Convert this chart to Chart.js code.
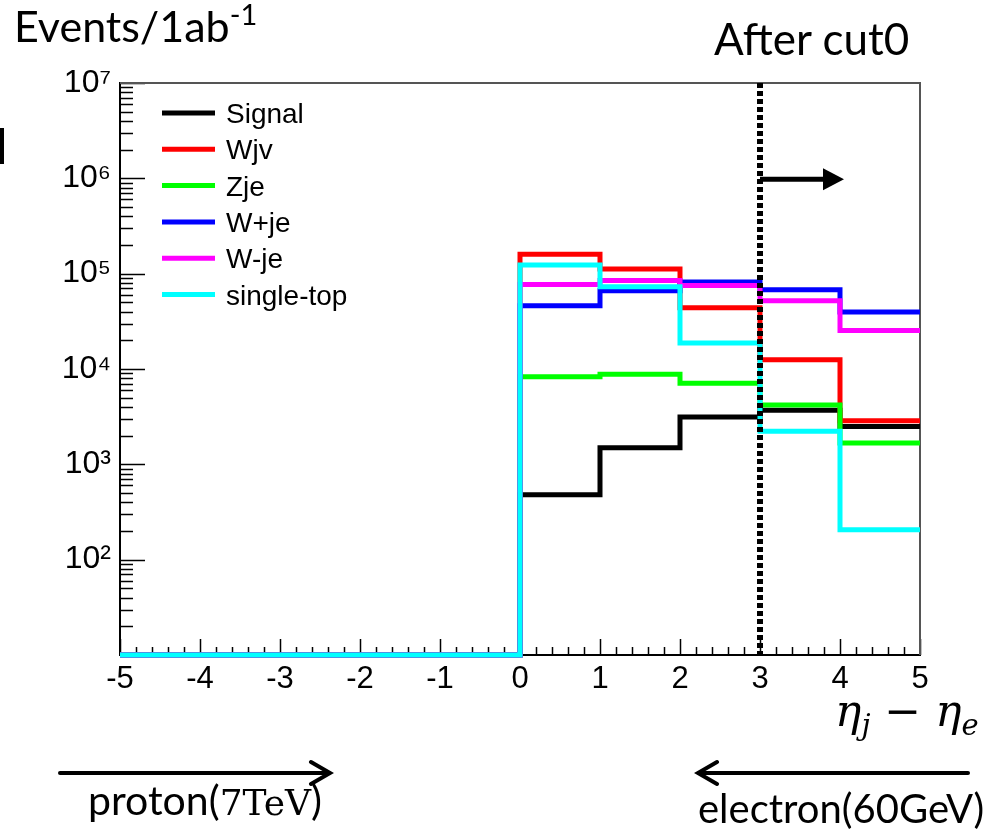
<!DOCTYPE html>
<html><head><meta charset="utf-8">
<script src="https://cdn.jsdelivr.net/npm/chart.js@4"></script>
<style>
html,body{margin:0;padding:0;background:#fff;}
#wrap{position:relative;width:992px;height:835px;overflow:hidden;background:#fff;}
#chartBox{position:absolute;left:0;top:0;width:992px;height:835px;}
.t{position:absolute;white-space:nowrap;color:#000;line-height:1;font-family:Lato,"Noto Sans",sans-serif;}
.sup{position:relative;}
svg{position:absolute;left:0;top:0;}
</style></head><body>
<div id="wrap">
<div id="chartBox"><canvas id="c"></canvas></div>
<svg width="992" height="835">
  <g stroke="#000" stroke-width="4" fill="none" stroke-linecap="round">
    <line x1="60" y1="773" x2="329" y2="773"/>
    <polyline points="311,762 330,773 311,784"/>
    <line x1="968" y1="773" x2="699" y2="773"/>
    <polyline points="717,762 698,773 717,784"/>
  </g>
  <rect x="0" y="128" width="4" height="36" fill="#000"/>
</svg>
<div class="t" style="left:14px;top:4px;font-size:43px;">Events/1ab<span class="sup" style="font-size:29px;top:-17px;">-1</span></div>
<div class="t" style="left:714px;top:16px;font-size:44px;">After cut0</div>
<div class="t" style="left:835px;top:689px;font-size:44px;font-family:'DejaVu Serif',serif;font-style:italic;">η<span class="sup" style="font-size:29px;top:9px;">j</span> − η<span class="sup" style="font-size:29px;top:9px;">e</span></div>
<div class="t" style="left:88px;top:779px;font-size:41px;">proton(<span style="font-family:'DejaVu Serif',serif;font-size:36px;">7TeV</span>)</div>
<div class="t" style="left:698px;top:788px;font-size:40px;">electron(60GeV)</div>
</div>
<script>
// ---- data ----
const binEdges = [-5, -4, -3, -2, -1, 0, 1, 2, 3, 4, 5];
const seriesNames = ['Signal', 'Wjv', 'Zje', 'W+je', 'W-je', 'single-top'];
const signal    = [0, 0, 0, 0, 0, 480,    1490,   3130,  3700,  2500];
const wjv       = [0, 0, 0, 0, 0, 160000, 112000, 44000, 12500, 2870];
const zje       = [0, 0, 0, 0, 0, 8300,   8800,   7100,  4200,  1670];
const wplusje   = [0, 0, 0, 0, 0, 46000,  66000,  82000, 68000, 39600];
const wminusje  = [0, 0, 0, 0, 0, 77000,  85000,  75000, 52000, 25300];
const singletop = [0, 0, 0, 0, 0, 123000, 73000,  18700, 2230,  206];
const xTickValues = [-5, -4, -3, -2, -1, 0, 1, 2, 3, 4, 5];
const yTickValues = [1e2, 1e3, 1e4, 1e5, 1e6, 1e7];
const yMin = 10, yMax = 1e7;
const cutValue = 3;
const cutArrowEnd = 4.05;
const cutArrowLevel = 1e6;

const colors = ['#000000', '#ff0000', '#00ff00', '#0000ff', '#ff00ff', '#00ffff'];
const allSeries = [signal, wjv, zje, wplusje, wminusje, singletop];

// histogram outline: point at each left edge, plus the final right edge (empty bins sit on the frame floor)
function histPoints(vals) {
  const pts = vals.map((v, i) => ({ x: binEdges[i], y: v > 0 ? v : yMin }));
  const last = vals[vals.length - 1];
  pts.push({ x: binEdges[binEdges.length - 1], y: last > 0 ? last : yMin });
  return pts;
}

const supDigits = {2:'²',3:'³',4:'⁴',5:'⁵',6:'⁶',7:'⁷'};

const rootAxes = {
  id: 'rootAxes',
  beforeDatasetsDraw(chart) {
    const ctx = chart.ctx, xs = chart.scales.x, ys = chart.scales.y, a = chart.chartArea;
    ctx.save();
    ctx.strokeStyle = '#000';
    ctx.lineWidth = 1.5;
    ctx.beginPath();
    for (let k = 0; k <= 50; k++) {
      const v = -5 + k * 0.2;
      const px = Math.round(xs.getPixelForValue(v)) + 0.5;
      const len = (k % 5 === 0) ? 16 : 8;
      ctx.moveTo(px, a.bottom); ctx.lineTo(px, a.bottom - len);
    }
    for (let e = 1; e <= 7; e++) {
      for (let m = 1; m <= 9; m++) {
        const v = m * Math.pow(10, e);
        if (v < yMin || v > yMax) continue;
        const py = Math.round(ys.getPixelForValue(v)) + 0.5;
        const len = (m === 1) ? 25 : 13;
        ctx.moveTo(a.left, py); ctx.lineTo(a.left + len, py);
      }
    }
    ctx.stroke();
    ctx.strokeStyle = '#555';
    ctx.lineWidth = 2;
    ctx.beginPath();
    ctx.moveTo(a.left, a.top); ctx.lineTo(a.right, a.top); ctx.lineTo(a.right, a.bottom);
    ctx.stroke();
    ctx.restore();
  },
  afterDatasetsDraw(chart) {
    const ctx = chart.ctx, xs = chart.scales.x, ys = chart.scales.y, a = chart.chartArea;
    const cx = xs.getPixelForValue(cutValue);
    ctx.save();
    ctx.strokeStyle = '#000';
    ctx.lineWidth = 6;
    ctx.setLineDash([5, 3]);
    ctx.beginPath();
    ctx.moveTo(cx, a.top); ctx.lineTo(cx, a.bottom);
    ctx.stroke();
    ctx.setLineDash([]);
    ctx.lineWidth = 5;
    const ay = ys.getPixelForValue(cutArrowLevel) + 1;
    const tip = xs.getPixelForValue(cutArrowEnd);
    ctx.beginPath();
    ctx.moveTo(cx, ay); ctx.lineTo(tip - 18, ay);
    ctx.stroke();
    ctx.fillStyle = '#000';
    ctx.beginPath();
    ctx.moveTo(tip, ay); ctx.lineTo(tip - 21, ay - 11); ctx.lineTo(tip - 21, ay + 11); ctx.closePath();
    ctx.fill();
    ctx.font = '28px "Liberation Sans", Arial, sans-serif';
    ctx.textBaseline = 'alphabetic';
    ctx.textAlign = 'left';
    seriesNames.forEach((name, i) => {
      const y = 113 + i * 36.3;
      ctx.strokeStyle = colors[i];
      ctx.lineWidth = 5;
      ctx.beginPath(); ctx.moveTo(162, y); ctx.lineTo(215, y); ctx.stroke();
      ctx.fillStyle = '#000';
      ctx.fillText(name, 226, y + 10);
    });
    ctx.restore();
  }
};

const datasets = allSeries.map((vals, i) => ({
  label: seriesNames[i],
  data: histPoints(vals),
  borderColor: colors[i],
  backgroundColor: colors[i],
  borderWidth: 5,
  stepped: 'before',
  pointRadius: 0,
  fill: false,
  tension: 0,
  clip: 6,
  borderCapStyle: 'butt',
  borderJoinStyle: 'miter',
  order: allSeries.length - 1 - i
}));

new Chart(document.getElementById('c'), {
  type: 'line',
  data: { datasets },
  options: {
    responsive: true,
    maintainAspectRatio: false,
    animation: false,
    devicePixelRatio: 1,
    layout: { padding: { left: 0, right: 72, top: 83, bottom: 130 } },
    plugins: { legend: { display: false }, tooltip: { enabled: false } },
    scales: {
      x: {
        type: 'linear', min: -5, max: 5,
        afterBuildTicks: s => { s.ticks = xTickValues.map(v => ({ value: v })); },
        afterFit: s => { s.height = 50; },
        grid: { display: false, drawTicks: false },
        border: { display: true, color: '#000', width: 2 },
        ticks: {
          color: '#000', padding: 6, autoSkip: false, maxRotation: 0,
          font: { family: '"Liberation Sans", Arial, sans-serif', size: 31 },
          callback: v => String(v)
        }
      },
      y: {
        type: 'logarithmic', min: yMin, max: yMax,
        afterBuildTicks: s => { s.ticks = yTickValues.map(v => ({ value: v })); },
        afterFit: s => { s.width = 120; },
        grid: { display: false, drawTicks: false },
        border: { display: true, color: '#000', width: 2 },
        ticks: {
          color: '#000', padding: 9, autoSkip: false,
          font: { family: '"Liberation Sans", Arial, sans-serif', size: 32 },
          callback: v => { const e = Math.round(Math.log10(v)); return '10' + (supDigits[e] || ''); }
        }
      }
    }
  },
  plugins: [rootAxes]
});
</script>
</body></html>
